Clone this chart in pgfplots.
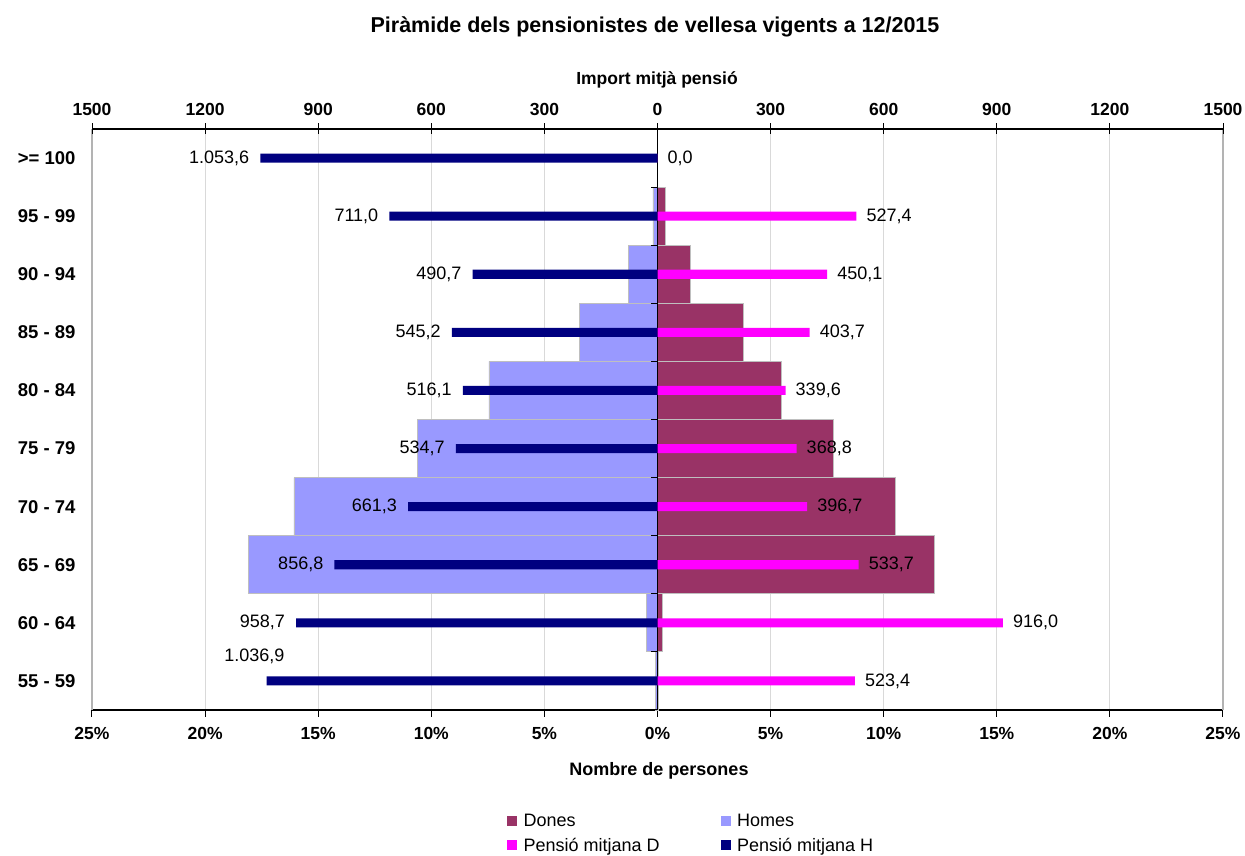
\documentclass[border=0pt]{standalone}
\usepackage{fontspec}
\setmainfont{Liberation Sans}
\usepackage{pgfplots}
\usepackage{pgfplotstable}
\pgfplotsset{compat=1.18}
\definecolor{homes}{HTML}{9999FF}
\definecolor{dones}{HTML}{993366}
\definecolor{penD}{HTML}{FF00FF}
\definecolor{penH}{HTML}{000080}
\definecolor{gridgray}{HTML}{D9D9D9}
\definecolor{edgegray}{HTML}{B3B3B3}
\definecolor{outline}{HTML}{BFBFBF}

\pgfplotstableread{
y homes dones
0 -0.09 0.04
1 -0.49 0.23
2 -18.10 12.24
3 -16.07 10.50
4 -10.62 7.79
5 -7.45 5.47
6 -3.45 3.78
7 -1.28 1.46
8 -0.20 0.33
9 0.00 0.00
}\pop

\pgfplotstableread{
y val lab dx dy
0 -1036.9 1.036,9 18 25
1 -958.7 958,7 -11 0
2 -856.8 856,8 -11 0
3 -661.3 661,3 -11 0
4 -534.7 534,7 -11 0
5 -516.1 516,1 -11 0
6 -545.2 545,2 -11 0
7 -490.7 490,7 -11 0
8 -711.0 711,0 -11 0
9 -1053.6 1.053,6 -11 0
}\penHtab

\pgfplotstableread{
y val lab
0 523.4 523,4
1 916.0 916,0
2 533.7 533,7
3 396.7 396,7
4 368.8 368,8
5 339.6 339,6
6 403.7 403,7
7 450.1 450,1
8 527.4 527,4
9 0.0 0,0
}\penDtab

\begin{document}
\begin{tikzpicture}
\useasboundingbox (0pt,0pt) rectangle (1245pt,856pt);
\begin{axis}[
  at={(92pt,146pt)}, anchor=south west,
  width=1131pt, height=581pt, scale only axis,
  xmin=-25, xmax=25, ymin=-0.5, ymax=9.5,
  axis x line*=bottom, axis y line*=left,
  y axis line style={draw=none},
  x axis line style={black, line width=1.2pt},
  xtick={-25,-20,...,25},
  xticklabels={25\%,20\%,15\%,10\%,5\%,0\%,5\%,10\%,15\%,20\%,25\%},
  ytick={0,...,9},
  yticklabels={55 - 59,60 - 64,65 - 69,70 - 74,75 - 79,80 - 84,85 - 89,90 - 94,95 - 99,>= 100},
  ytick style={draw=none},
  xtick style={black, line width=1pt},
  tick align=outside, major tick length=7pt,
  xmajorgrids, grid style={gridgray, line width=1pt},
  ticklabel style={font=\bfseries\fontsize{17.5}{20}\selectfont},
  xticklabel style={yshift=-7pt},
  yticklabel style={font=\bfseries\fontsize{18.5}{20}\selectfont, xshift=-6pt},
  clip=false,
]
\addplot[xbar, bar width=1, bar shift=0pt, fill=homes, draw=outline, line width=0.8pt] table[x=homes, y=y]{\pop};
\addplot[xbar, bar width=1, bar shift=0pt, fill=dones, draw=outline, line width=0.8pt] table[x=dones, y=y]{\pop};
\draw[edgegray, line width=1.2pt] (axis cs:-25,-0.5) -- (axis cs:-25,9.5);
\draw[edgegray, line width=1.2pt] (axis cs:25,-0.5) -- (axis cs:25,9.5);
\draw[black, line width=1.2pt] (axis cs:0,-0.5) -- (axis cs:0,9.5);
\pgfplotsinvokeforeach{-0.5,0.5,...,9.5}{\draw[black, line width=1pt] (axis cs:0,#1) -- ++(-6pt,0pt);}
\end{axis}

\begin{axis}[
  at={(92pt,146pt)}, anchor=south west,
  width=1131pt, height=581pt, scale only axis,
  xmin=-1500, xmax=1500, ymin=-0.5, ymax=9.5,
  axis x line*=top, hide y axis,
  x axis line style={black, line width=1.2pt},
  xtick={-1500,-1200,...,1500},
  xticklabels={1500,1200,900,600,300,0,300,600,900,1200,1500},
  xtick style={black, line width=1pt},
  tick align=center, major tick length=11pt,
  ticklabel style={font=\bfseries\fontsize{17.5}{20}\selectfont},
  xticklabel style={yshift=4pt},
  clip=false,
  legend columns=2,
  legend cell align=left,
  legend style={at={(axis description cs:0.367,-0.175)}, anchor=north west,
    draw=none, fill=none, inner sep=0pt,
    font=\fontsize{18}{21}\selectfont,
    /tikz/every even column/.append style={column sep=59pt},
    row sep=6pt},
]
\addlegendimage{legend image code/.code={\fill[dones] (0pt,-4.5pt) rectangle (9pt,4.5pt); \path (14pt,0pt);}}
\addlegendentry{Dones}
\addlegendimage{legend image code/.code={\fill[homes] (0pt,-4.5pt) rectangle (9pt,4.5pt); \path (14pt,0pt);}}
\addlegendentry{Homes}
\addlegendimage{legend image code/.code={\fill[penD] (0pt,-4.5pt) rectangle (9pt,4.5pt); \path (14pt,0pt);}}
\addlegendentry{Pensió mitjana D}
\addlegendimage{legend image code/.code={\fill[penH] (0pt,-4.5pt) rectangle (9pt,4.5pt); \path (14pt,0pt);}}
\addlegendentry{Pensió mitjana H}

\addplot[forget plot, xbar, bar width=0.155, bar shift=0pt, fill=penH, draw=none,
  point meta=explicit symbolic, nodes near coords,
  visualization depends on={\thisrow{dx} \as \lbdx},
  visualization depends on={\thisrow{dy} \as \lbdy},
  every node near coord/.append style={anchor=east, inner sep=0pt, xshift=\lbdx pt, yshift=\lbdy pt,
    font=\fontsize{18}{21}\selectfont, text=black}]
  table[x=val, y=y, meta=lab]{\penHtab};
\addplot[forget plot, xbar, bar width=0.155, bar shift=0pt, fill=penD, draw=none,
  point meta=explicit symbolic, nodes near coords,
  every node near coord/.append style={anchor=west, inner sep=0pt, xshift=10pt,
    font=\fontsize{18}{21}\selectfont, text=black}]
  table[x=val, y=y, meta=lab]{\penDtab};
\end{axis}

\node[font=\bfseries\fontsize{21.5}{24}\selectfont] at (655pt,829pt) {Piràmide dels pensionistes de vellesa vigents a 12/2015};
\node[font=\bfseries\fontsize{17.5}{20}\selectfont] at (657pt,776pt) {Import mitjà pensió};
\node[font=\bfseries\fontsize{18}{20}\selectfont] at (659pt,85pt) {Nombre de persones};
\end{tikzpicture}
\end{document}
